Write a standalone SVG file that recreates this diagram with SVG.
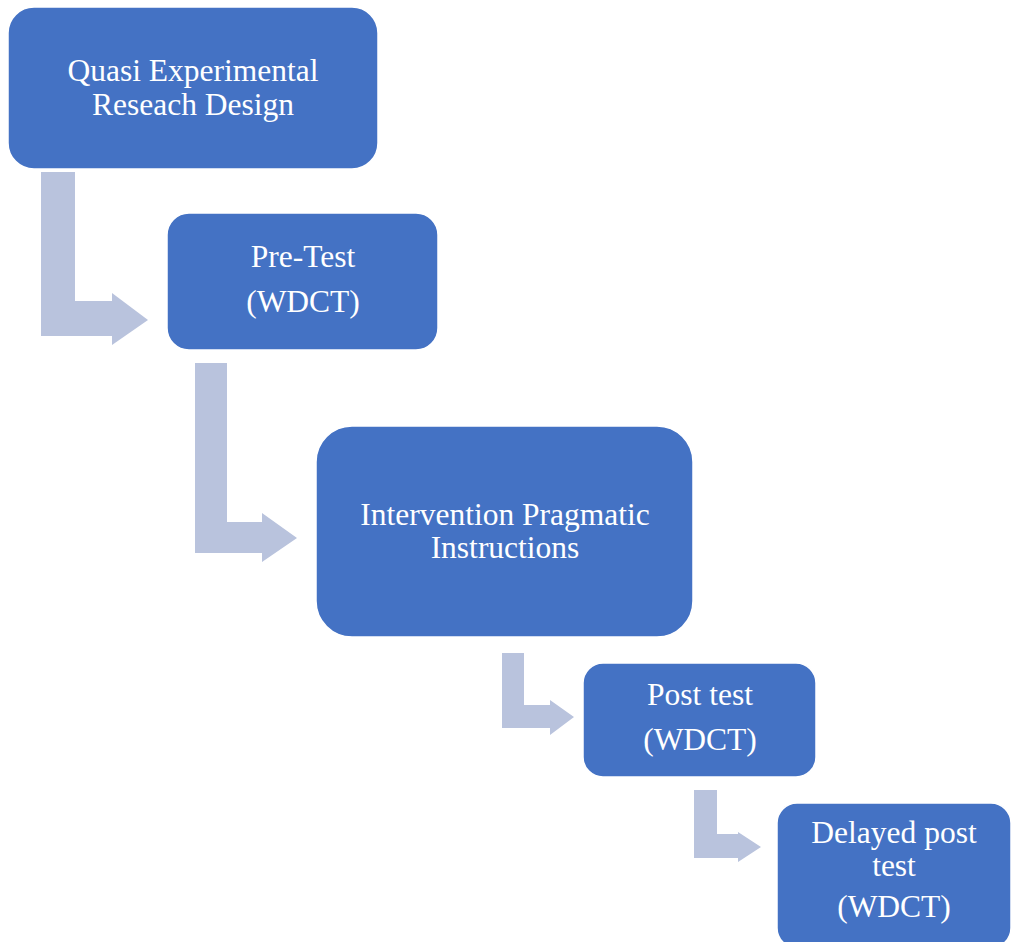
<svg xmlns="http://www.w3.org/2000/svg" width="1013" height="942" viewBox="0 0 1013 942">
<style>
.box{fill:#4472C4;stroke:#ffffff;stroke-width:1.5}
.arr{fill:#B9C3DD}
.t{font-family:"Liberation Serif","Times New Roman",serif;font-size:31.5px;fill:#ffffff;text-anchor:middle}
</style>
<rect width="1013" height="942" fill="#ffffff"/>
<g id="connectors">
<path class="arr" d="M41,172 H75 V301 H112 V293 L148,320 L112,345 V336 H41 Z"/>
<path class="arr" d="M195,363 H227 V522 H262 V513 L297,538 L262,562 V553 H195 Z"/>
<path class="arr" d="M502,653 H524 V705 H550 V700 L574,717 L550,735 V728 H502 Z"/>
<path class="arr" d="M694,790 H717 V834 H738 V832 L761,847 L738,862 V858 H694 Z"/>
</g>
<g id="node1">
<rect class="box" x="8" y="7" width="370" height="162" rx="26"/>
<text class="t" x="193" y="81">Quasi Experimental</text>
<text class="t" x="193" y="115">Reseach Design</text>
</g>
<g id="node2">
<rect class="box" x="167" y="213" width="271" height="137" rx="22"/>
<text class="t" x="303" y="267">Pre-Test</text>
<text class="t" x="303" y="312">(WDCT)</text>
</g>
<g id="node3">
<rect class="box" x="316" y="426" width="377" height="211" rx="36"/>
<text class="t" x="505" y="525">Intervention Pragmatic</text>
<text class="t" x="505" y="558">Instructions</text>
</g>
<g id="node4">
<rect class="box" x="583" y="663" width="233" height="114" rx="20"/>
<text class="t" x="700" y="705">Post test</text>
<text class="t" x="700" y="750">(WDCT)</text>
</g>
<g id="node5">
<rect class="box" x="777" y="803" width="234" height="145" rx="20"/>
<text class="t" x="894" y="843">Delayed post</text>
<text class="t" x="894" y="876">test</text>
<text class="t" x="894" y="917">(WDCT)</text>
</g>
</svg>
